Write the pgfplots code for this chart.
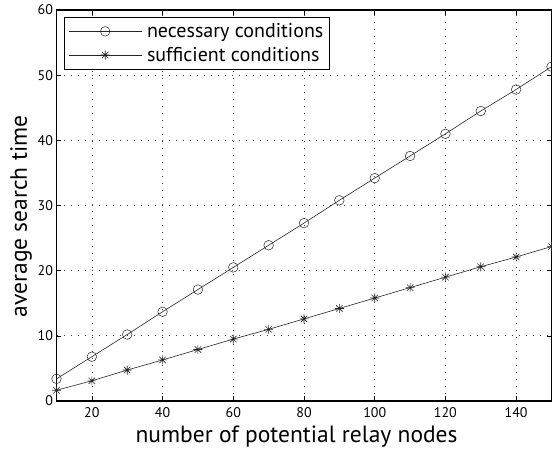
\documentclass[border=0pt]{standalone}
\usepackage{pgfplots}
\pgfplotsset{compat=1.18}
\usepackage{fontspec}
\setmainfont{PT Sans}
\pgfdeclareplotmark{mstar}{%
  \pgfpathmoveto{\pgfqpoint{-\pgfplotmarksize}{0pt}}\pgfpathlineto{\pgfqpoint{\pgfplotmarksize}{0pt}}%
  \pgfpathmoveto{\pgfqpoint{0pt}{-\pgfplotmarksize}}\pgfpathlineto{\pgfqpoint{0pt}{\pgfplotmarksize}}%
  \pgfpathmoveto{\pgfqpoint{-0.707\pgfplotmarksize}{-0.707\pgfplotmarksize}}\pgfpathlineto{\pgfqpoint{0.707\pgfplotmarksize}{0.707\pgfplotmarksize}}%
  \pgfpathmoveto{\pgfqpoint{-0.707\pgfplotmarksize}{0.707\pgfplotmarksize}}\pgfpathlineto{\pgfqpoint{0.707\pgfplotmarksize}{-0.707\pgfplotmarksize}}%
  \pgfusepathqstroke}
\begin{document}
\begin{tikzpicture}
\useasboundingbox (-56.5bp,-53bp) rectangle (495.5bp,401bp);
\begin{axis}[
  scale only axis,
  width=495bp, height=391bp,
  xmin=10, xmax=150, ymin=0, ymax=60,
  xtick={20,40,...,140},
  ytick={0,10,...,60},
  tick align=inside,
  major tick length=5bp,
  tick style={black, line width=0.6pt},
  axis line style={black, line width=1.1pt},
  grid=major,
  grid style={dash pattern=on 1bp off 6bp, black!75, line width=0.7pt},
  /pgf/number format/assume math mode=true,
  ticklabel style={font=\fontsize{14bp}{16bp}\selectfont},
  xticklabel style={yshift=-3bp},
  xlabel={number of potential relay nodes},
  ylabel={average search time},
  xlabel style={font=\fontsize{23.5bp}{25bp}\selectfont, at={(ticklabel cs:0.485)}, yshift=-1bp},
  ylabel style={font=\fontsize{23.5bp}{25bp}\selectfont, at={(ticklabel cs:0.472)}, yshift=-1bp},
  legend style={at={(0.0152,0.983)}, anchor=north west, draw=black, line width=0.8pt,
    font=\fontsize{20bp}{23bp}\selectfont, inner xsep=4bp, inner ysep=4.5bp, row sep=4bp,
    cells={anchor=west}},
  legend image code/.code={%
    \draw[#1, line width=0.6pt, mark=none] (0bp,0bp) -- (73bp,0bp);
    \draw[#1, line width=0.6pt] plot coordinates {(36.5bp,0bp)};},
]
\addplot[black!85, line width=0.6pt, mark=o, mark size=4.8bp, mark options={line width=0.5pt}] coordinates {
(10,3.4) (20,6.8) (30,10.2) (40,13.7) (50,17.1) (60,20.5) (70,23.9) (80,27.3)
(90,30.8) (100,34.2) (110,37.6) (120,41.0) (130,44.5) (140,47.8) (150,51.3)};
\addlegendentry{\hspace{3bp}necessary conditions\hspace{12bp}}
\addplot[black!85, line width=0.6pt, mark=mstar, mark size=4.5bp, mark options={line width=0.6pt}] coordinates {
(10,1.65) (20,3.1) (30,4.75) (40,6.3) (50,7.9) (60,9.5) (70,11.0) (80,12.6)
(90,14.2) (100,15.8) (110,17.4) (120,19.0) (130,20.6) (140,22.1) (150,23.7)};
\addlegendentry{\hspace{3bp}sufficient conditions}
\end{axis}
\end{tikzpicture}
\end{document}
